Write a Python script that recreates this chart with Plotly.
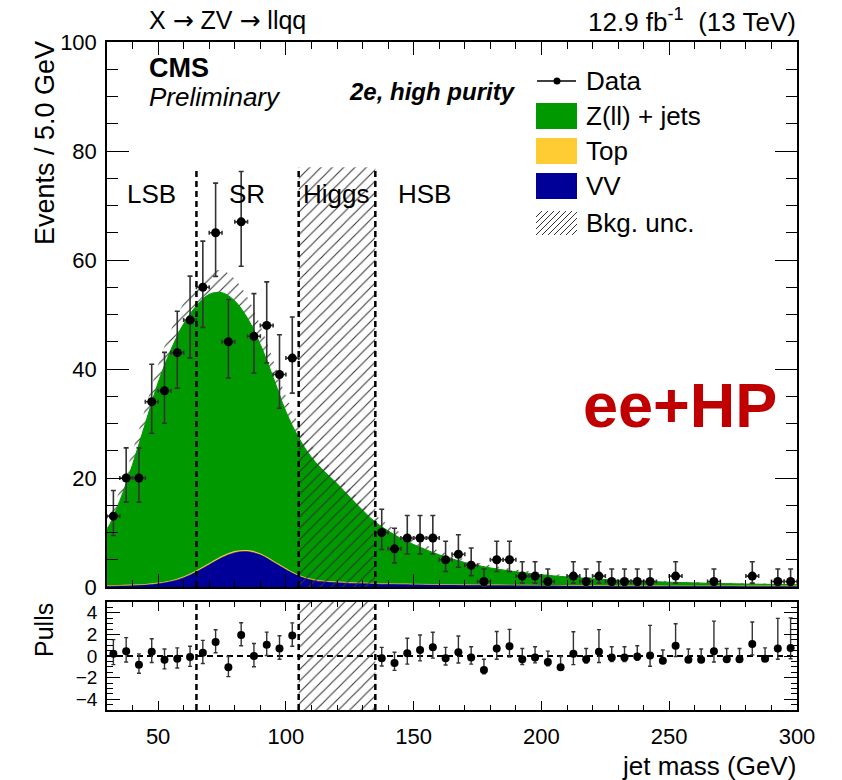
import math
import plotly.graph_objects as go

# ---------------- data ----------------
bin_centers = [32.5, 37.5, 42.5, 47.5, 52.5, 57.5, 62.5, 67.5, 72.5, 77.5, 82.5, 87.5, 92.5, 97.5, 102.5,
               137.5, 142.5, 147.5, 152.5, 157.5, 162.5, 167.5, 172.5, 177.5, 182.5, 187.5, 192.5, 197.5,
               202.5, 207.5, 212.5, 217.5, 222.5, 227.5, 232.5, 237.5, 242.5, 247.5, 252.5, 257.5, 262.5,
               267.5, 272.5, 277.5, 282.5, 287.5, 292.5, 297.5]
data_counts = [13, 20, 20, 34, 36, 43, 49, 55, 65, 45, 67, 46, 48, 39, 42,
               10, 7, 9, 9, 9, 5, 6, 4, 1, 5, 5, 2, 2,
               1, 0, 2, 1, 2, 1, 1, 1, 1, 0, 2, 0, 0,
               1, 0, 0, 2, 0, 1, 1]
pull_values = [0.2, 0.45, -0.8, 0.4, -0.35, -0.25, -0.1, 0.3, 1.3, -1.05, 1.95, 0.0, 1.05, 0.7, 1.9,
               -0.2, -0.65, 0.25, 0.55, 0.8, -0.2, 0.35, -0.15, -1.3, 0.7, 0.9, -0.3, -0.15,
               -0.55, -1.05, 0.2, -0.3, 0.4, -0.15, -0.15, -0.05, 0.05, -0.45, 0.95, -0.35, -0.35,
               0.45, -0.3, -0.3, 1.1, -0.25, 0.7, 0.75]

model_mass = [30, 35, 40, 45, 50, 55, 60, 65, 70, 75, 80, 85, 90, 95, 100, 105, 110, 115, 120, 125,
              130, 135, 140, 145, 150, 160, 170, 180, 190, 200, 210, 220, 230, 240, 250, 260, 270,
              280, 290, 300]
model_total = [10.3, 15.8, 22.5, 30.0, 37.5, 43.5, 48.3, 51.6, 53.7, 54.0, 52.5, 49.3, 44.5, 38.5,
               32.2, 27.4, 23.8, 21.2, 19.0, 16.5, 14.1, 11.9, 10.3, 8.9, 7.8, 5.9, 4.5, 3.5, 2.8,
               2.25, 1.85, 1.5, 1.25, 1.05, 0.88, 0.75, 0.64, 0.55, 0.48, 0.42]
model_unc = [1.5, 2.0, 2.5, 2.9, 3.3, 3.6, 3.8, 4.0, 4.1, 4.1, 4.0, 3.8, 3.5, 3.2, 2.8, 2.5, 2.2,
             2.0, 1.8, 1.6, 1.4, 1.3, 1.1, 1.0, 0.9, 0.75, 0.6, 0.5, 0.42, 0.36, 0.3, 0.26, 0.22,
             0.2, 0.18, 0.16, 0.14, 0.13, 0.12, 0.11]
model_vv = [0.15, 0.2, 0.25, 0.35, 0.6, 1.0, 1.7, 2.8, 4.1, 5.4, 6.3, 6.5, 5.9, 4.6, 3.2, 2.0, 1.3,
            0.95, 0.8, 0.7, 0.62, 0.56, 0.5, 0.46, 0.42, 0.36, 0.32, 0.28, 0.25, 0.22, 0.2, 0.18,
            0.16, 0.15, 0.14, 0.13, 0.12, 0.11, 0.1, 0.1]
model_top = [0.05, 0.05, 0.05, 0.06, 0.07, 0.08, 0.1, 0.12, 0.14, 0.15, 0.15, 0.15, 0.14, 0.12,
             0.1, 0.09, 0.08, 0.07, 0.07, 0.06, 0.06, 0.05, 0.05, 0.05, 0.05, 0.04, 0.04, 0.04,
             0.03, 0.03, 0.03, 0.03, 0.02, 0.02, 0.02, 0.02, 0.02, 0.02, 0.02, 0.02]

region_lines = [65, 105, 135]
blind_window = [105, 135]
blind_height = 77
region_names = ["LSB", "SR", "Higgs", "HSB"]
region_label_x = [47.6, 84.6, 119.5, 154.4]
legend_names = ["Data", "Z(ll) + jets", "Top", "VV", "Bkg. unc."]

GREEN = "#009900"
YELLOW = "#ffcc33"
BLUE = "#000099"
FONT = "Liberation Sans, Arial, sans-serif"

# Poisson (Garwood) 68% intervals for the data error bars
garwood = {0: (0.0, 1.841), 1: (0.827, 2.300), 2: (1.292, 2.638), 3: (1.633, 2.918),
           4: (1.914, 3.162), 5: (2.159, 3.382), 6: (2.380, 3.583), 7: (2.581, 3.770),
           8: (2.768, 3.944), 9: (2.943, 4.110), 10: (3.108, 4.266), 11: (3.265, 4.416),
           12: (3.415, 4.559), 13: (3.558, 4.697)}


def poisson_err(n):
    if n in garwood:
        return garwood[n]
    return (math.sqrt(n) - 0.05, math.sqrt(n) + 1.05)


# ---------------- figure geometry (pixels) ----------------
W, H = 842, 780
L, R, T, B = 107, 797, 42, 710


def px(p):
    return (p - L) / (R - L)


def py(p):
    return (B - p) / (B - T)


fig = go.Figure()

# ---- main panel ----
lower = [t - u for t, u in zip(model_total, model_unc)]
upper = [t + u for t, u in zip(model_total, model_unc)]
hatch = dict(shape="/", size=8, solidity=0.13, fgcolor="#333333", bgcolor="rgba(0,0,0,0)",
             fillmode="replace")

fig.add_trace(go.Scatter(x=model_mass, y=lower, mode="lines", line=dict(width=0, shape="spline"),
                         showlegend=False, hoverinfo="skip", xaxis="x", yaxis="y"))
fig.add_trace(go.Scatter(x=model_mass, y=upper, mode="lines", line=dict(width=0, shape="spline"),
                         fill="tonexty", fillcolor="rgba(0,0,0,0)", fillpattern=hatch,
                         showlegend=False, hoverinfo="skip", xaxis="x", yaxis="y"))
fig.add_trace(go.Scatter(x=model_mass, y=model_total, mode="lines",
                         line=dict(width=1, color=GREEN, shape="spline"),
                         fill="tozeroy", fillcolor=GREEN, showlegend=False, xaxis="x", yaxis="y"))
vv_top = [v + t for v, t in zip(model_vv, model_top)]
fig.add_trace(go.Scatter(x=model_mass, y=vv_top, mode="lines",
                         line=dict(width=1.5, color=YELLOW, shape="spline"),
                         fill="tozeroy", fillcolor=YELLOW, showlegend=False, xaxis="x", yaxis="y"))
fig.add_trace(go.Scatter(x=model_mass, y=model_vv, mode="lines",
                         line=dict(width=0.5, color=BLUE, shape="spline"),
                         fill="tozeroy", fillcolor=BLUE, showlegend=False, xaxis="x", yaxis="y"))

# blinded Higgs window (hatched)
bx = [blind_window[0], blind_window[1], blind_window[1], blind_window[0], blind_window[0]]
fig.add_trace(go.Scatter(x=bx, y=[0, 0, blind_height, blind_height, 0], mode="lines",
                         line=dict(width=0), fill="toself", fillcolor="rgba(0,0,0,0)",
                         fillpattern=hatch, showlegend=False, hoverinfo="skip",
                         xaxis="x", yaxis="y"))

# data points (non-empty bins)
dx, dy, eup, elo = [], [], [], []
for c, n in zip(bin_centers, data_counts):
    if n > 0:
        lo, up = poisson_err(n)
        dx.append(c)
        dy.append(n)
        eup.append(up)
        elo.append(lo)
fig.add_trace(go.Scatter(x=dx, y=dy, mode="markers",
                         marker=dict(size=9, color="black"),
                         error_y=dict(type="data", symmetric=False, array=eup, arrayminus=elo,
                                      color="#333333", thickness=1.6, width=2.5),
                         error_x=dict(type="constant", value=2.5, color="#333333",
                                      thickness=1.6, width=2),
                         showlegend=False, xaxis="x", yaxis="y"))

# ---- pulls panel ----
fig.add_trace(go.Scatter(x=bx, y=[-5, -5, 5, 5, -5], mode="lines", line=dict(width=0),
                         fill="toself", fillcolor="rgba(0,0,0,0)", fillpattern=hatch,
                         showlegend=False, hoverinfo="skip", xaxis="x2", yaxis="y2"))
pup, plo = [], []
for n, p in zip(data_counts, pull_values):
    lo, up = poisson_err(n)
    if n == 0:
        pup.append(1.0)
        plo.append(0.0)
    elif p >= 0:
        pup.append(up / lo)
        plo.append(1.0)
    else:
        pup.append(1.0)
        plo.append(lo / up)
fig.add_trace(go.Scatter(x=bin_centers, y=pull_values, mode="markers",
                         marker=dict(size=8, color="black"),
                         error_y=dict(type="data", symmetric=False, array=pup, arrayminus=plo,
                                      color="#333333", thickness=1.4, width=2),
                         showlegend=False, xaxis="x2", yaxis="y2"))

# ---- shapes: dashed region lines ----
shapes = []
dash = "6px,4px"
for xv in region_lines:
    shapes.append(dict(type="line", xref="x", yref="y", x0=xv, x1=xv, y0=0, y1=blind_height,
                       line=dict(color="black", width=2.5, dash=dash), layer="above"))
    shapes.append(dict(type="line", xref="x2", yref="y2", x0=xv, x1=xv, y0=-5, y1=5,
                       line=dict(color="black", width=2.5, dash=dash), layer="above"))
shapes.append(dict(type="line", xref="x2", yref="y2", x0=30, x1=300, y0=0, y1=0,
                   line=dict(color="black", width=2, dash=dash), layer="below"))

# ---- manual legend ----
leg_y = [81, 116, 151, 186, 223]
sx0, sx1 = 536, 577
shapes.append(dict(type="line", xref="paper", yref="paper", x0=px(537), x1=px(576),
                   y0=py(leg_y[0]), y1=py(leg_y[0]), line=dict(color="black", width=1.5)))
shapes.append(dict(type="circle", xref="paper", yref="paper", x0=px(553.5), x1=px(560.5),
                   y0=py(leg_y[0] + 3.5), y1=py(leg_y[0] - 3.5),
                   fillcolor="black", line=dict(width=0)))
for yc, col in zip(leg_y[1:4], [GREEN, YELLOW, BLUE]):
    shapes.append(dict(type="rect", xref="paper", yref="paper", x0=px(sx0), x1=px(sx1),
                       y0=py(yc + 13), y1=py(yc - 13), fillcolor=col, line=dict(width=0)))
# hatched swatch
hy0, hy1 = leg_y[4] + 12, leg_y[4] - 12
hh = hy0 - hy1
for k in range(-24, 41, 6):
    xa, ya = sx0 + k, hy0
    xb, yb = sx0 + k + hh, hy1
    if xa < sx0:
        ya = hy0 - (sx0 - xa)
        xa = sx0
    if xb > sx1:
        yb = hy1 + (xb - sx1)
        xb = sx1
    if xb <= xa:
        continue
    shapes.append(dict(type="line", xref="paper", yref="paper", x0=px(xa), x1=px(xb),
                       y0=py(ya), y1=py(yb), line=dict(color="#333333", width=1)))

annotations = []
for yc, name in zip(leg_y, legend_names):
    annotations.append(dict(xref="paper", yref="paper", x=px(584), y=py(yc), text=name,
                            showarrow=False, xanchor="left", yanchor="middle",
                            font=dict(family=FONT, size=26, color="black")))

# region labels
for xv, name in zip(region_label_x, region_names):
    annotations.append(dict(xref="x", yref="y", x=xv, y=72.2, text=name, showarrow=False,
                            xanchor="center", yanchor="middle",
                            font=dict(family=FONT, size=26, color="black")))

ARROW = '<span style="font-family:DejaVu Sans">\u2192</span>'

# header texts
annotations += [
    dict(xref="paper", yref="paper", x=px(147), y=py(21), text=f"X {ARROW} ZV {ARROW} llqq",
         showarrow=False, xanchor="left", yanchor="middle",
         font=dict(family=FONT, size=25, color="black")),
    dict(xref="paper", yref="paper", x=px(798), y=py(21),
         text="12.9 fb<sup>-1</sup>  (13 TeV)", showarrow=False, xanchor="right",
         yanchor="middle", font=dict(family=FONT, size=26, color="black")),
    dict(xref="paper", yref="paper", x=px(147), y=py(68), text="<b>CMS</b>", showarrow=False,
         xanchor="left", yanchor="middle", font=dict(family=FONT, size=27, color="black")),
    dict(xref="paper", yref="paper", x=px(147), y=py(97), text="<i>Preliminary</i>",
         showarrow=False, xanchor="left", yanchor="middle",
         font=dict(family=FONT, size=26, color="black")),
    dict(xref="paper", yref="paper", x=px(347), y=py(92), text="<b><i>2e, high purity</i></b>",
         showarrow=False, xanchor="left", yanchor="middle",
         font=dict(family=FONT, size=24, color="black")),
    dict(xref="paper", yref="paper", x=px(680), y=py(405), text="<b>ee+HP</b>",
         showarrow=False, xanchor="center", yanchor="middle",
         font=dict(family=FONT, size=63, color="#c00000")),
    dict(xref="paper", yref="paper", x=px(45), y=py(39), text="Events / 5.0 GeV",
         showarrow=False, textangle=-90, xanchor="center", yanchor="top",
         font=dict(family=FONT, size=27, color="black")),
    dict(xref="paper", yref="paper", x=px(44), y=py(630), text="Pulls",
         showarrow=False, textangle=-90, xanchor="center", yanchor="middle",
         font=dict(family=FONT, size=25, color="black")),
    dict(xref="paper", yref="paper", x=px(798), y=py(766), text="jet mass (GeV)",
         showarrow=False, xanchor="right", yanchor="middle",
         font=dict(family=FONT, size=26, color="black")),
]

main_bottom = py(587)
pull_top = py(602)

axis_common = dict(showline=True, linecolor="black", linewidth=1.5, mirror="allticks",
                   ticks="inside", tickcolor="black", showgrid=False, zeroline=False)
tick_font = dict(family=FONT, size=22, color="black")

fig.update_layout(
    width=W, height=H,
    margin=dict(l=L, r=W - R, t=T, b=H - B),
    paper_bgcolor="white", plot_bgcolor="white",
    showlegend=False,
    shapes=shapes, annotations=annotations,
    xaxis=dict(domain=[0, 1], anchor="y", range=[30, 300], tickvals=[50, 100, 150, 200, 250, 300],
               showticklabels=False, ticklen=13, tickwidth=1.2, tickfont=tick_font,
               minor=dict(dtick=10, tick0=0, ticklen=7, ticks="inside", tickcolor="black"),
               **axis_common),
    yaxis=dict(domain=[main_bottom, 1], anchor="x", range=[0, 100], tickvals=[0, 20, 40, 60, 80, 100],
               ticklen=22, tickwidth=1.2, ticklabelstandoff=4, tickfont=tick_font,
               minor=dict(dtick=5, tick0=0, ticklen=11, ticks="inside", tickcolor="black"),
               **axis_common),
    xaxis2=dict(domain=[0, 1], anchor="y2", range=[30, 300], matches="x",
                tickvals=[50, 100, 150, 200, 250, 300], ticklen=9, tickwidth=1.2,
                ticklabelstandoff=6, tickfont=tick_font,
                minor=dict(dtick=10, tick0=0, ticklen=5, ticks="inside", tickcolor="black"),
                **axis_common),
    yaxis2=dict(domain=[0, pull_top], anchor="x2", range=[-5, 5], tickvals=[-4, -2, 0, 2, 4],
                ticktext=["\u22124", "\u22122", "0", "2", "4"], ticklen=13, tickwidth=1.2,
                ticklabelstandoff=4, tickfont=dict(family=FONT, size=19, color="black"),
                minor=dict(dtick=0.5, tick0=0, ticklen=6, ticks="inside", tickcolor="black"),
                **axis_common),
)

fig.write_html("out.html")
